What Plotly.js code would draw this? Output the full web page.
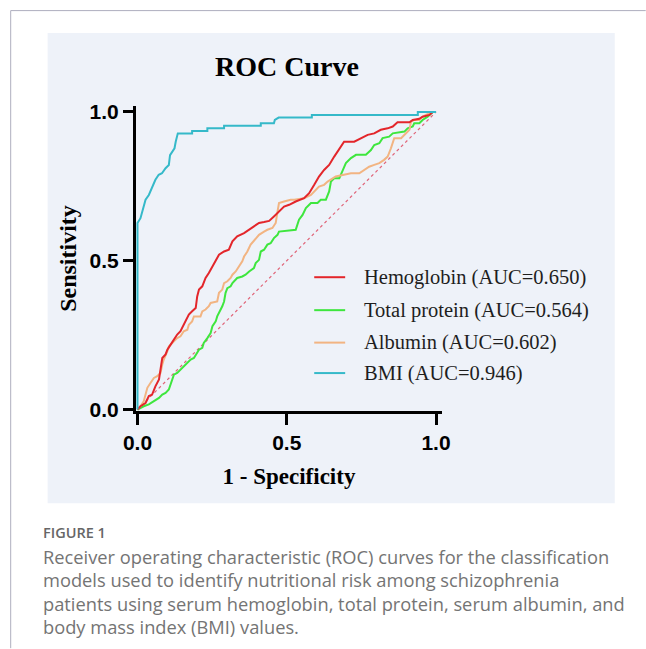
<!DOCTYPE html>
<html>
<head>
<meta charset="utf-8">
<script src="https://cdn.plot.ly/plotly-3.0.1.min.js"></script>
<style>html,body{margin:0;padding:0;background:#fff;}#chart{width:646px;height:649px;}</style>
</head>
<body>
<div id="chart"></div>
<script>
// ---- data ----
const seriesNames = ["Hemoglobin (AUC=0.650)", "Total protein (AUC=0.564)", "Albumin (AUC=0.602)", "BMI (AUC=0.946)"];
const tickVals = [0, 0.5, 1];
const tickText = ["0.0", "0.5", "1.0"];
const diagX = [0, 1];
const diagY = [0, 1];

const hemoX = [0,.010,.027,.038,.049,.060,.072,.077,.083,.094,.100,.111,.122,.133,.144,.150,.161,.172,.183,.195,.200,.206,.217,.228,.239,.251,.262,.273,.290,.306,.318,.334,.357,.374,.390,.407,.424,.441,.457,.474,.491,.508,.530,.558,.575,.592,.608,.625,.642,.659,.676,.692,.726,.748,.771,.793,.815,.838,.855,.871,.911,.922,.944,.955,.978,.989,1.0];
const hemoY = [0,.011,.022,.045,.050,.078,.101,.129,.173,.185,.201,.218,.235,.252,.263,.274,.296,.319,.330,.341,.380,.403,.414,.442,.459,.481,.500,.520,.531,.537,.565,.582,.593,.604,.615,.627,.630,.634,.649,.665,.682,.688,.699,.710,.727,.755,.783,.805,.822,.850,.878,.900,.900,.912,.923,.928,.940,.945,.951,.965,.965,.973,.977,.984,.990,1.0,1.0];

const protX = [0,.021,.038,.055,.072,.083,.094,.105,.111,.116,.122,.133,.144,.155,.167,.178,.189,.200,.206,.217,.222,.234,.245,.251,.262,.267,.279,.284,.290,.295,.301,.312,.318,.334,.351,.362,.374,.390,.396,.407,.413,.424,.435,.446,.457,.469,.474,.497,.530,.541,.553,.564,.581,.603,.614,.631,.642,.648,.659,.676,.687,.698,.715,.732,.765,.782,.793,.810,.821,.843,.855,.894,.905,.922,.927,.944,.955,.972,.989,1.0];
const protY = [0,.011,.017,.028,.039,.050,.056,.067,.084,.101,.117,.123,.134,.145,.157,.168,.173,.190,.201,.207,.224,.240,.257,.280,.296,.313,.336,.347,.363,.392,.408,.414,.425,.442,.447,.453,.464,.475,.492,.503,.531,.537,.554,.559,.576,.587,.598,.600,.604,.638,.654,.677,.694,.694,.705,.705,.733,.766,.777,.777,.805,.828,.845,.856,.856,.872,.889,.895,.912,.917,.928,.934,.945,.951,.962,.962,.973,.984,1.0,1.0];

const albX = [0,.010,.021,.027,.033,.044,.055,.066,.077,.083,.088,.100,.105,.122,.133,.144,.155,.167,.172,.183,.189,.211,.217,.228,.239,.245,.267,.273,.284,.290,.301,.312,.318,.329,.340,.351,.357,.368,.379,.396,.407,.424,.435,.452,.463,.469,.474,.491,.513,.525,.558,.581,.597,.608,.625,.637,.664,.687,.715,.743,.759,.776,.793,.810,.826,.838,.849,.860,.883,.899,.911,.916,.927,.944,.955,.966,.989,1.0];
const albY = [0,.011,.028,.050,.073,.090,.106,.112,.123,.151,.168,.196,.212,.229,.240,.246,.263,.268,.285,.296,.313,.313,.330,.336,.347,.358,.363,.392,.403,.425,.431,.442,.453,.464,.481,.498,.514,.531,.554,.576,.587,.598,.604,.610,.627,.665,.694,.699,.705,.705,.710,.721,.738,.749,.755,.766,.783,.789,.794,.794,.805,.816,.822,.828,.839,.850,.878,.912,.912,.928,.940,.967,.973,.973,.984,.990,1.0,1.0];

const bmiX = [0,0,.010,.021,.027,.038,.049,.060,.071,.082,.094,.105,.109,.116,.124,.128,.135,.183,.183,.234,.234,.290,.290,.413,.413,.457,.460,.473,.584,.584,.939,.939,1.0];
const bmiY = [0,.627,.643,.688,.705,.721,.749,.772,.789,.794,.811,.822,.855,.867,.878,.900,.928,.928,.936,.936,.945,.945,.954,.954,.962,.962,.973,.981,.981,.990,.990,1.0,1.0];

const captionHead = "FIGURE 1";
const captionLines = [
  "Receiver operating characteristic (ROC) curves for the classification",
  "models used to identify nutritional risk among schizophrenia",
  "patients using serum hemoglobin, total protein, serum albumin, and",
  "body mass index (BMI) values."
];

// ---- styling ----
const colors = ["#e3262b", "#3ee63e", "#f2b482", "#35b9c9"];
const W = 646, H = 649;
const XMIN = -0.005, XMAX = 1.02, YMIN = -0.005, YMAX = 1.02;
const SX = 299, SY = 298;               // pixels per unit
const X0PX = 137, Y0PX = 410;           // pixel position of data (0,0)
const L = X0PX + XMIN * SX, PW = (XMAX - XMIN) * SX;
const PH = (YMAX - YMIN) * SY, B = H - (Y0PX - YMIN * SY);
const T = H - B - PH, R = W - L - PW;
const px = v => (v - L) / PW;          // pixel x -> paper
const py = v => (H - B - v) / PH;      // pixel y -> paper

const traces = [
  {x: diagX, y: diagY, mode: "lines", line: {color: "#e06478", width: 1.2, dash: "dot"}, showlegend: false, hoverinfo: "skip"},
  {x: protX, y: protY, name: seriesNames[1], mode: "lines", line: {color: colors[1], width: 2}, showlegend: false},
  {x: albX, y: albY, name: seriesNames[2], mode: "lines", line: {color: colors[2], width: 2}, showlegend: false},
  {x: hemoX, y: hemoY, name: seriesNames[0], mode: "lines", line: {color: colors[0], width: 2}, showlegend: false},
  {x: bmiX, y: bmiY, name: seriesNames[3], mode: "lines", line: {color: colors[3], width: 2}, showlegend: false}
];

const shapes = [
  {type: "rect", xref: "paper", yref: "paper", x0: px(47), x1: px(615), y0: py(504), y1: py(33), fillcolor: "#eef2f9", line: {width: 0}, layer: "below"},
  {type: "line", xref: "paper", yref: "paper", x0: px(10), x1: px(646), y0: py(10.5), y1: py(10.5), line: {color: "#aeaebe", width: 1}},
  {type: "line", xref: "paper", yref: "paper", x0: px(10), x1: px(10), y0: py(10.5), y1: py(649), line: {color: "#aeaebe", width: 1}}
];
const legendRowsY = [277.5, 310.5, 343, 373.5];
const legendOrder = [0, 1, 2, 3];
const annotations = [];
legendOrder.forEach((k, i) => {
  shapes.push({type: "line", xref: "paper", yref: "paper", x0: px(314), x1: px(345), y0: py(legendRowsY[i]), y1: py(legendRowsY[i]), line: {color: colors[k], width: 2}});
  annotations.push({xref: "paper", yref: "paper", x: px(362), y: py(legendRowsY[i]), xanchor: "left", yanchor: "middle", showarrow: false, text: seriesNames[k], font: {family: "Liberation Serif, Times New Roman, serif", size: 20.5, color: "#1e1e1e"}});
});
annotations.push({xref: "paper", yref: "paper", x: px(40), y: py(533), xanchor: "left", yanchor: "middle", showarrow: false, text: captionHead, font: {family: "Open Sans, sans-serif", size: 14.5, color: "#666666", weight: 600}});
const capY = [557, 580.5, 604, 627];
captionLines.forEach((t, i) => {
  annotations.push({xref: "paper", yref: "paper", x: px(40), y: py(capY[i]), xanchor: "left", yanchor: "middle", showarrow: false, text: t, font: {family: "Open Sans, sans-serif", size: 18.3, color: "#747474"}});
});

const axisCommon = {
  tickmode: "array", tickvals: tickVals, ticktext: tickText,
  showgrid: false, zeroline: false, showline: true, linecolor: "#000", linewidth: 3,
  ticks: "outside", tickcolor: "#000", tickwidth: 3,
  tickfont: {family: "Liberation Sans, Arial, sans-serif", size: 21, color: "#000", weight: "bold"},
  automargin: false, fixedrange: true
};

const layout = {
  width: W, height: H,
  margin: {l: L, r: R, t: T, b: B, pad: 0},
  paper_bgcolor: "#ffffff", plot_bgcolor: "rgba(0,0,0,0)",
  showlegend: false,
  title: {text: "ROC Curve", font: {family: "Liberation Serif, Times New Roman, serif", size: 28, color: "#000", weight: "bold"}, xref: "container", yref: "container", x: 287 / W, xanchor: "center", y: 1 - 66 / H, yanchor: "middle"},
  xaxis: Object.assign({}, axisCommon, {range: [XMIN, XMAX], ticklen: 11, title: {text: "1 - Specificity", standoff: 15, font: {family: "Liberation Serif, Times New Roman, serif", size: 23, color: "#000", weight: "bold"}}}),
  yaxis: Object.assign({}, axisCommon, {range: [YMIN, YMAX], ticklen: 10, title: {text: "Sensitivity", standoff: 7, font: {family: "Liberation Serif, Times New Roman, serif", size: 24, color: "#000", weight: "bold"}}}),
  shapes: shapes,
  annotations: annotations
};

Plotly.newPlot("chart", traces, layout, {displayModeBar: false, staticPlot: true});
</script>
</body>
</html>
